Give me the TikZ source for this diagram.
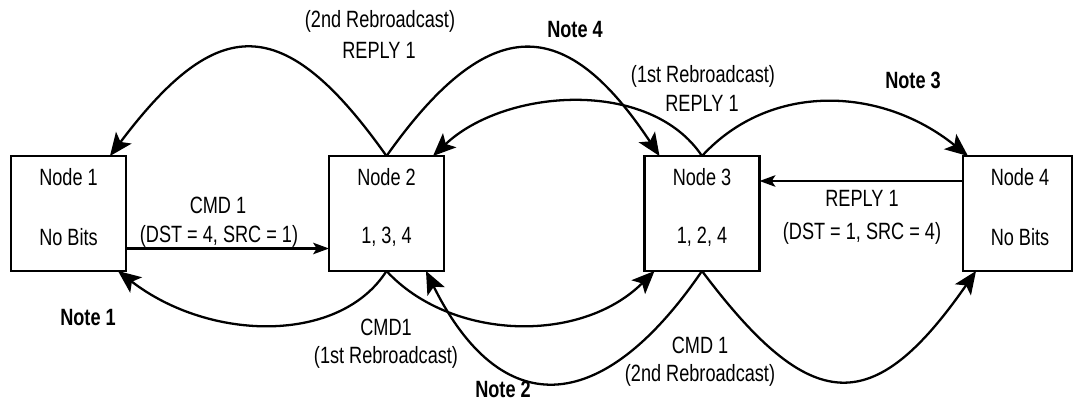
\documentclass[tikz,border=0pt]{standalone}
\usepackage{fontspec}
\setmainfont{Liberation Sans}[FakeStretch=0.77]
\usetikzlibrary{arrows.meta,calc}
\begin{document}
\begin{tikzpicture}[x=0.02cm,y=-0.02cm,
  box/.style={draw, line width=1.6pt, minimum width=2.3cm, minimum height=2.3cm, outer sep=0pt, inner sep=0pt},
  boxw/.style={box, minimum width=2.18cm},
  txt/.style={font=\fontsize{13.4}{15}\selectfont, inner sep=0pt},
  note/.style={font=\fontsize{13.4}{15}\selectfont\bfseries, inner sep=0pt},
  curve/.style={line width=1.3pt, -{Stealth[length=13pt,width=11pt,inset=3pt]}},
  straight/.style={line width=1.3pt, -{Stealth[length=9pt,width=6.5pt,inset=2pt]}}]
\useasboundingbox (0,0) rectangle (1074,402);

% boxes
\node[box] (n1) at (68.5,213.5) {};
\node[box] (n2) at (386.5,213.5) {};
\node[box] (n3) at (702,213.5) {};
\node[boxw] (n4) at (1017.5,213.5) {};

% box texts
\node[txt] (n1t) at (68.5,177) {Node 1};
\node[txt] (n1b) at (68.5,237) {No Bits};
\node[txt] (n2t) at (386.5,177) {Node 2};
\node[txt] (n2b) at (386.5,237) {1, 3, 4};
\node[txt] (n3t) at (702,177) {Node 3};
\node[txt] (n3b) at (702,237) {1, 2, 4};
\node[txt] (n4t) at (1020,177) {Node 4};
\node[txt] (n4b) at (1020,237) {No Bits};

% straight arrows
\draw[straight] ($(n1.east)+(0,35)$) -- ($(n2.west)+(0,35)$);
\draw[straight] ($(n4.west)+(0,-32.5)$) -- ($(n3.east)+(0,-32.5)$);

% top curves
\draw[curve] (n2.north) .. controls (283,10) and (217,14) .. ($(n1.north east)+(-16,0)$);
\draw[curve] (n2.north) .. controls (490,10) and (566,15) .. ($(n3.north west)+(15,0)$);
\draw[curve] (n3.north) .. controls (650,78) and (505,88) .. ($(n2.north east)+(-11,0)$);
\draw[curve] (n3.north) .. controls (770,82) and (881,86) .. ($(n4.north west)+(5,0)$);

% bottom curves
\draw[curve] (n2.south) .. controls (340,344) and (210,342) .. ($(n1.south east)+(-8,0)$);
\draw[curve] (n2.south) .. controls (450,340) and (580,345) .. ($(n3.south west)+(10,0)$);
\draw[curve] (n3.south) .. controls (600,420) and (500,420) .. ($(n2.south east)+(-18,0)$);
\draw[curve] (n3.south) .. controls (811,416) and (873,419) .. ($(n4.south west)+(13,0)$);

% labels
\node[txt] (l1a) at (380,21) {(2nd Rebroadcast)};
\node[txt] (l1b) at (379,50) {REPLY 1};
\node[note] (note4) at (575,30) {Note 4};
\node[txt] (l3a) at (703,76) {(1st Rebroadcast)};
\node[txt] (l3b) at (702,103) {REPLY 1};
\node[note] (note3) at (913,80) {Note 3};
\node[txt] (l5a) at (218,205) {CMD 1};
\node[txt] (l5b) at (219,236) {(DST = 4, SRC = 1)};
\node[txt] (l6a) at (862,198) {REPLY 1};
\node[txt] (l6b) at (862,233) {(DST = 1, SRC = 4)};
\node[note] (note1) at (88,318) {Note 1};
\node[txt] (l8a) at (386,327) {CMD1};
\node[txt] (l8b) at (386,357) {(1st Rebroadcast)};
\node[note] (note2) at (503,389) {Note 2};
\node[txt] (l10a) at (700,345) {CMD 1};
\node[txt] (l10b) at (700,375) {(2nd Rebroadcast)};
\end{tikzpicture}
\end{document}
